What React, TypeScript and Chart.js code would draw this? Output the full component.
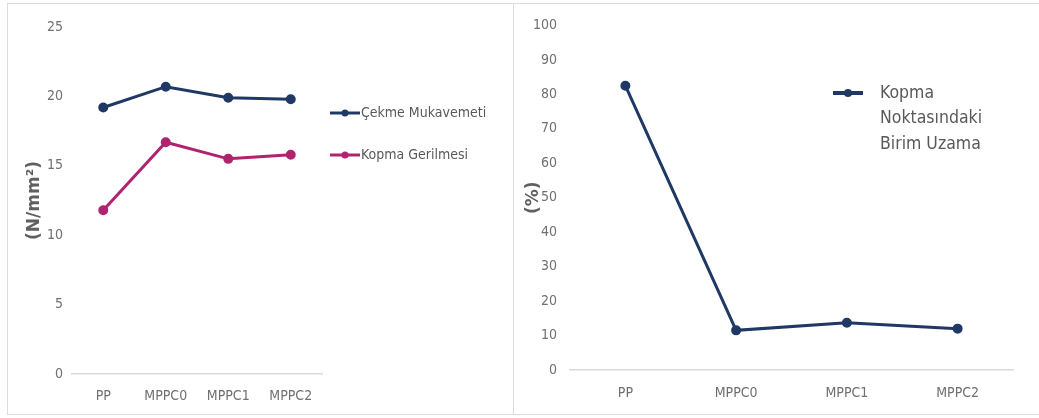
import React, { useEffect, useRef } from "react";
import { Chart, registerables } from "chart.js";
Chart.register(...registerables);

const categories = ["PP", "MPPC0", "MPPC1", "MPPC2"];
const cekmeMukavemeti = [19.2, 20.7, 19.9, 19.8];
const kopmaGerilmesi = [11.8, 16.7, 15.5, 15.8];
const birimUzama = [82.5, 11.5, 13.7, 12.0];
const leftLegendLabels = ["Çekme Mukavemeti", "Kopma Gerilmesi"];
const rightLegendLines = ["Kopma", "Noktasındaki", "Birim Uzama"];
const leftAxisTitle = "(N/mm²)";
const rightAxisTitle = "(%)";

const NAVY = "#1F3864";
const MAGENTA = "#B0236F";
const FONT = "'DejaVu Sans Condensed', 'Liberation Sans', sans-serif";
const TICK_COLOR = "#707070";

const customLegend = {
  id: "customLegend",
  afterDraw(chart: any, _args: any, opts: any) {
    if (!opts || !opts.items) return;
    const ctx = chart.ctx;
    ctx.save();
    opts.items.forEach((item: any, i: number) => {
      const ds = chart.data.datasets[i];
      const y = opts.y + i * opts.gap;
      ctx.strokeStyle = ds.borderColor;
      ctx.lineWidth = opts.lineWidth;
      ctx.beginPath();
      ctx.moveTo(opts.x, y);
      ctx.lineTo(opts.x + opts.lineLen, y);
      ctx.stroke();
      ctx.fillStyle = ds.borderColor;
      ctx.beginPath();
      ctx.arc(opts.x + opts.lineLen / 2, y, opts.radius, 0, Math.PI * 2);
      ctx.fill();
      ctx.fillStyle = opts.color;
      ctx.font = opts.font;
      ctx.textBaseline = "middle";
      ctx.textAlign = "left";
      const lines: string[] = Array.isArray(item) ? item : [item];
      lines.forEach((ln, j) => {
        ctx.fillText(ln, opts.x + opts.lineLen + opts.textGap, y + j * opts.lineHeight);
      });
    });
    ctx.restore();
  },
};

function LeftChart() {
  const ref = useRef<HTMLCanvasElement>(null);
  useEffect(() => {
    const chart = new Chart(ref.current as HTMLCanvasElement, {
      type: "line",
      data: {
        labels: categories,
        datasets: [
          {
            label: leftLegendLabels[0],
            data: cekmeMukavemeti,
            borderColor: NAVY,
            backgroundColor: NAVY,
            borderWidth: 3,
            pointRadius: 3.5,
            pointBackgroundColor: NAVY,
            pointBorderColor: NAVY,
          },
          {
            label: leftLegendLabels[1],
            data: kopmaGerilmesi,
            borderColor: MAGENTA,
            backgroundColor: MAGENTA,
            borderWidth: 3,
            pointRadius: 3.5,
            pointBackgroundColor: MAGENTA,
            pointBorderColor: MAGENTA,
          },
        ],
      },
      options: {
        animation: false,
        responsive: false,
        layout: { padding: { left: 0, right: 191, top: 23, bottom: 0 } },
        plugins: {
          legend: { display: false },
          tooltip: { enabled: false },
          customLegend: {
            items: leftLegendLabels,
            x: 322,
            y: 109,
            gap: 42,
            lineLen: 30,
            lineWidth: 3,
            radius: 3.5,
            textGap: 1,
            lineHeight: 20,
            font: `14px ${FONT}`,
            color: "#595959",
          },
        } as any,
        scales: {
          x: {
            offset: true,
            grid: { display: false, drawTicks: false },
            border: { display: true, color: "#d9d9d9", width: 1.5 },
            ticks: { color: TICK_COLOR, font: { family: FONT, size: 14 }, padding: 14 },
            afterFit: (s: any) => {
              s.height = 40;
            },
          },
          y: {
            min: 0,
            max: 25,
            grid: { display: false, drawTicks: false },
            border: { display: false },
            ticks: { stepSize: 5, color: TICK_COLOR, font: { family: FONT, size: 14 }, padding: 9 },
            title: {
              display: true,
              text: leftAxisTitle,
              color: "#606060",
              font: { family: "'DejaVu Sans', sans-serif", size: 17, weight: "bold" },
              padding: { top: 16, bottom: 0 },
            },
            afterFit: (s: any) => {
              s.width = 64;
            },
          },
        },
      },
      plugins: [customLegend],
    });
    return () => chart.destroy();
  }, []);
  return <canvas ref={ref} width={505} height={410} style={{ display: "block" }} />;
}

function RightChart() {
  const ref = useRef<HTMLCanvasElement>(null);
  useEffect(() => {
    const chart = new Chart(ref.current as HTMLCanvasElement, {
      type: "line",
      data: {
        labels: categories,
        datasets: [
          {
            label: rightLegendLines.join(" "),
            data: birimUzama,
            borderColor: NAVY,
            backgroundColor: NAVY,
            borderWidth: 3,
            pointRadius: 3.5,
            pointBackgroundColor: NAVY,
            pointBorderColor: NAVY,
          },
        ],
      },
      options: {
        animation: false,
        responsive: false,
        layout: { padding: { left: 0, right: 26, top: 10, bottom: 0 } },
        plugins: {
          legend: { display: false },
          tooltip: { enabled: false },
          customLegend: {
            items: [rightLegendLines],
            x: 319,
            y: 89,
            gap: 0,
            lineLen: 30,
            lineWidth: 4,
            radius: 4,
            textGap: 17,
            lineHeight: 25.5,
            font: `17.5px ${FONT}`,
            color: "#595959",
          },
        } as any,
        scales: {
          x: {
            offset: true,
            grid: { display: false, drawTicks: false },
            border: { display: true, color: "#d9d9d9", width: 1.5 },
            ticks: { color: TICK_COLOR, font: { family: FONT, size: 14 }, padding: 15 },
            afterFit: (s: any) => {
              s.height = 44;
            },
          },
          y: {
            min: 0,
            max: 100,
            grid: { display: false, drawTicks: false },
            border: { display: false },
            ticks: { stepSize: 10, color: TICK_COLOR, font: { family: FONT, size: 14 }, padding: 13 },
            title: {
              display: true,
              text: rightAxisTitle,
              color: "#606060",
              font: { family: "'DejaVu Sans', sans-serif", size: 17, weight: "bold" },
              padding: { top: 9, bottom: 0 },
            },
            afterFit: (s: any) => {
              s.width = 56;
            },
          },
        },
      },
      plugins: [customLegend],
    });
    return () => chart.destroy();
  }, []);
  return <canvas ref={ref} width={525} height={410} style={{ display: "block" }} />;
}

export default function App() {
  return (
    <div
      style={{
        position: "fixed",
        left: 0,
        top: 0,
        width: 1039,
        height: 418,
        background: "#ffffff",
        overflow: "hidden",
      }}
    >
      <div
        style={{
          position: "absolute",
          left: 7,
          top: 3,
          width: 505,
          height: 410,
          border: "1px solid #dcdcdc",
        }}
      >
        <LeftChart />
      </div>
      <div
        style={{
          position: "absolute",
          left: 513,
          top: 3,
          width: 530,
          height: 410,
          border: "1px solid #dcdcdc",
        }}
      >
        <RightChart />
      </div>
    </div>
  );
}
